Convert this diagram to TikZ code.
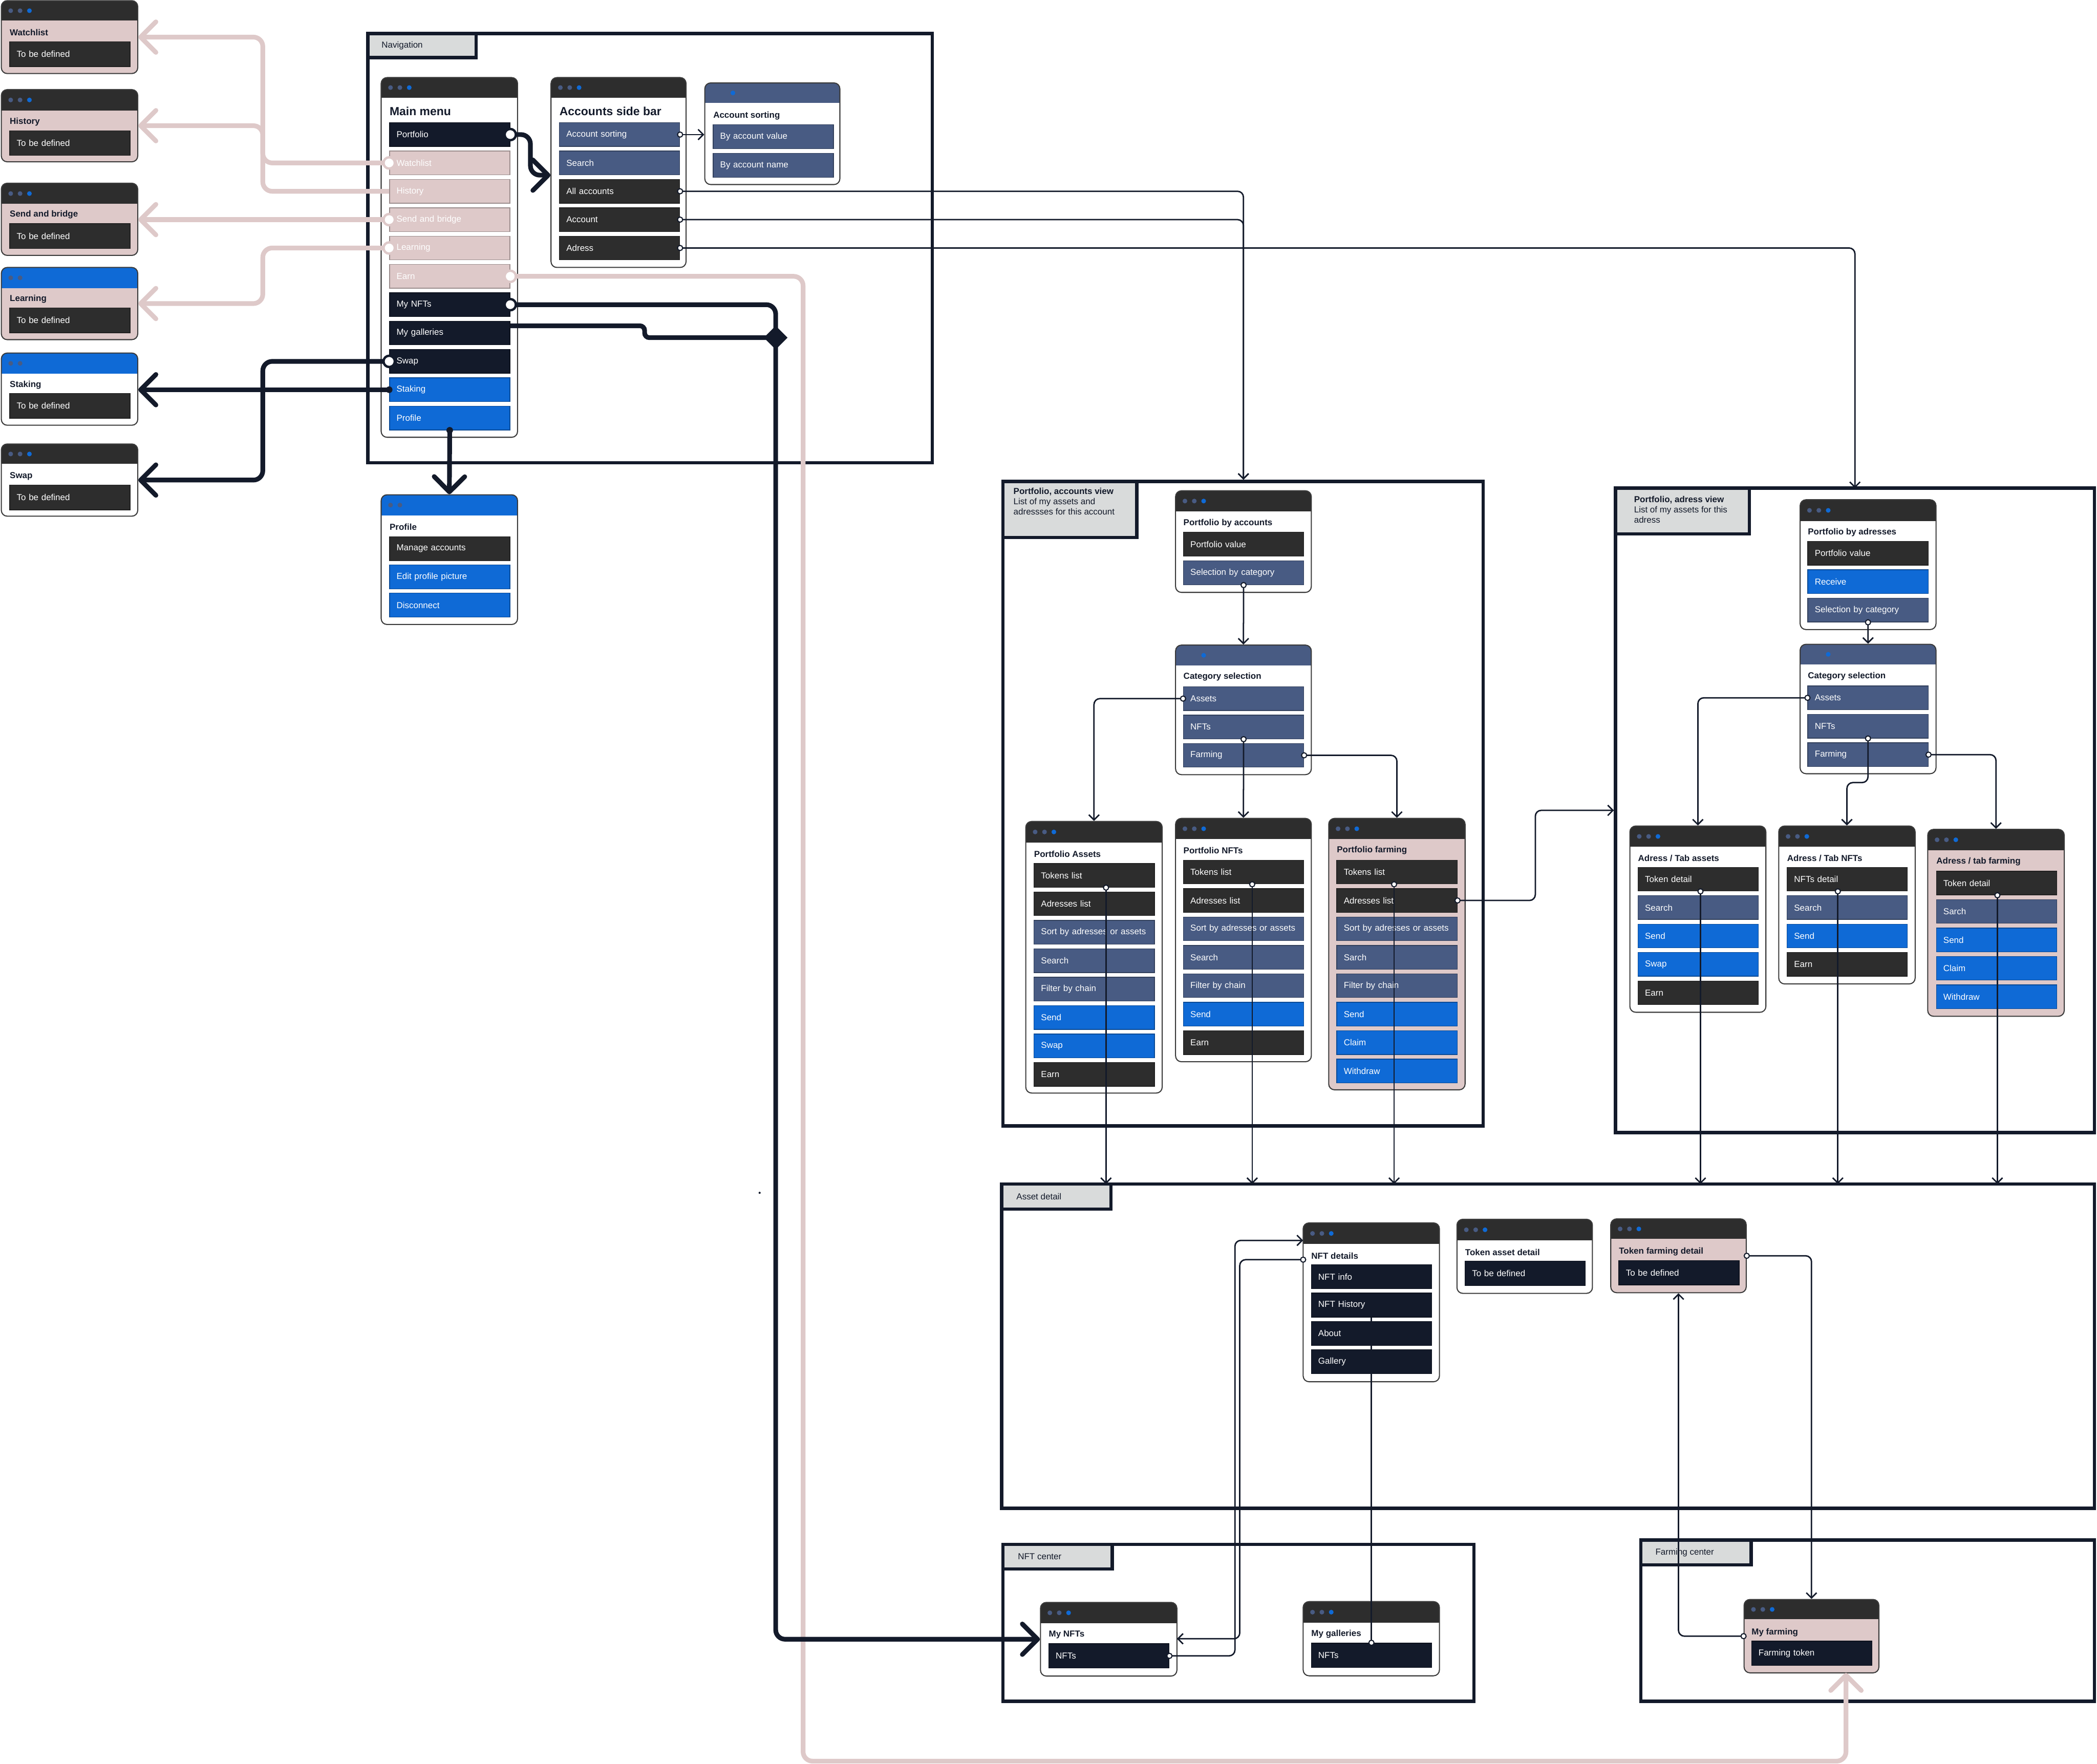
\documentclass[tikz,border=0pt]{standalone}
\usepackage{fontspec}
\setmainfont{Liberation Sans}
\usetikzlibrary{arrows.meta,calc,fit,shapes.geometric}
\definecolor{navy}{HTML}{131A2A}
\definecolor{coal}{HTML}{2D2D2D}
\definecolor{slate}{HTML}{485B83}
\definecolor{azure}{HTML}{0F6AD6}
\definecolor{blush}{HTML}{DEC9C9}
\definecolor{tabgrey}{HTML}{D9DBDB}
\definecolor{winline}{HTML}{3A3A3A}
\newcommand{\uifont}{\fontsize{3.7}{4.4}\selectfont}
\newcommand{\bigfont}{\fontsize{5}{6}\selectfont\bfseries}
\tikzset{
  winbox/.style={draw=winline, line width=0.45pt, rounded corners=2.5pt, inner sep=0pt},
  btn/.style={anchor=north west, fill=#1, draw=#1!70!black, line width=0.3pt,
              minimum width=18mm, minimum height=3.55mm, inner xsep=1.05mm, inner ysep=0pt,
              text width=15.9mm, align=left, text=white, font=\uifont},
  wtitle/.style={anchor=west, inner sep=0pt, text=navy, font=\uifont\bfseries},
  areabox/.style={draw=navy, line width=1.4pt, inner sep=0pt},
  tabbox/.style={draw=navy, fill=tabgrey, line width=1.4pt, inner sep=0pt},
  tablbl/.style={anchor=west, inner sep=0pt, text=navy, font=\uifont}}
% window: name, x1, y1, x2, y2, bottom of header, header colour, body colour
\newcommand{\appwin}[8]{%
  \begin{scope}
    \clip[rounded corners=2.5pt] (#2,#3) rectangle (#4,#5);
    \fill[#8] (#2,#3) rectangle (#4,#5);
    \fill[#7] (#2,#3) rectangle (#4,#6);
  \end{scope}
  \node[winbox, fit={(#2,#3) (#4,#5)}] (#1) {};
  \foreach \dx/\dc in {7/slate,14/slate,21/azure}
    \fill[\dc] ({#2+\dx},{(#3+#6)/2}) circle (1pt);
}
\newcommand{\ringpin}[2]{\draw[draw=#2, fill=white, line width=1pt] (#1) circle (2.4pt);}

\begin{document}
\begin{tikzpicture}[x=0.2mm, y=-0.2mm,
    thinlink/.style={draw=navy, line width=0.6pt, rounded corners=2.5pt,
                     -{Straight Barb[length=2.2pt,width=4.4pt]}},
    navyline/.style={draw=navy, line width=2pt, rounded corners=4pt,
                     -{Straight Barb[length=6.5pt,width=13pt,round]}},
    pinkline/.style={navyline, draw=blush},
    pinthin/.style={draw=navy, fill=white, line width=0.45pt}]
  \useasboundingbox (0,0) rectangle (1568,1319);

  % ---- areas
  \node[areabox, fit={(275,25) (697,346)}] (navf) {};
  \node[tabbox, fit={(275,25) (356,43)}] (navtab) {};
  \node[tablbl] (navlbl) at (285,34) {Navigation};

  \node[areabox, fit={(750,360) (1109,842)}] (pav) {};
  \node[tabbox, fit={(750,360) (850,402)}] (pavtab) {};
  \node[tablbl, anchor=north west, align=left] (pavlbl) at (757.5,364.5)
    {\textbf{Portfolio, accounts view}\\List of my assets and\\adressses for this account};

  \node[areabox, fit={(1208,365) (1566,847)}] (padv) {};
  \node[tabbox, fit={(1208,365) (1308,399.3)}] (padvtab) {};
  \node[tablbl, anchor=north west, align=left] (padvlbl) at (1221.5,370.5)
    {\textbf{Portfolio, adress view}\\List of my assets for this\\adress};

  \node[areabox, fit={(749,885.4) (1566,1128)}] (adf) {};
  \node[tabbox, fit={(749,885.4) (830.6,904.2)}] (adftab) {};
  \node[tablbl] (adflbl) at (759.7,894.8) {Asset detail};

  \node[areabox, fit={(750,1155) (1102,1272.3)}] (nftc) {};
  \node[tabbox, fit={(750,1155) (831.6,1173.4)}] (nftctab) {};
  \node[tablbl] (nftclbl) at (760.8,1164.1) {NFT center};

  \node[areabox, fit={(1227,1151.7) (1566,1272.3)}] (farmc) {};
  \node[tabbox, fit={(1227,1151.7) (1309.4,1170.2)}] (farmctab) {};
  \node[tablbl] (farmclbl) at (1237.5,1161) {Farming center};

  % ---- left column
  \appwin{w1}{1}{0.5}{103}{55}{15.5}{coal}{blush}
  \node[wtitle] (w1t) at (7,24.4) {Watchlist};
  \node[btn=coal, minimum height=3.7mm] (w1b) at (7,31) {To be defined};
  \appwin{w2}{1}{67}{103}{121}{82.5}{coal}{blush}
  \node[wtitle] (w2t) at (7,91) {History};
  \node[btn=coal, minimum height=3.7mm] (w2b) at (7,97.5) {To be defined};
  \appwin{w3}{1}{137}{103}{191}{152.5}{coal}{blush}
  \node[wtitle] (w3t) at (7,160.5) {Send and bridge};
  \node[btn=coal, minimum height=3.7mm] (w3b) at (7,167) {To be defined};
  \appwin{w4}{1}{200}{103}{254}{215.5}{azure}{blush}
  \node[wtitle] (w4t) at (7,223.8) {Learning};
  \node[btn=coal, minimum height=3.7mm] (w4b) at (7,230) {To be defined};
  \appwin{stakw}{1}{264}{103}{318}{279.5}{azure}{white}
  \node[wtitle] (w5t) at (7,287.8) {Staking};
  \node[btn=coal, minimum height=3.7mm] (w5b) at (7,294) {To be defined};
  \appwin{swapw}{1}{332}{103}{386}{347}{coal}{white}
  \node[wtitle] (w6t) at (7,356) {Swap};
  \node[btn=coal, minimum height=3.7mm] (w6b) at (7,362.5) {To be defined};

  % ---- navigation
  \appwin{mainw}{285}{58}{387}{327}{73}{coal}{white}
  \node[wtitle, font=\bigfont] (mainT) at (291,83) {Main menu};
  \foreach \nm/\col/\txt [count=\i from 0] in {mPort/navy/Portfolio, mWatch/blush/Watchlist,
      mHist/blush/History, mSend/blush/Send and bridge, mLearn/blush/Learning, mEarn/blush/Earn,
      mNft/navy/My NFTs, mGal/navy/My galleries, mSwap/navy/Swap, mStak/azure/Staking, mProf/azure/Profile}
    \node[btn=\col] (\nm) at (291,{91.5+21.2*\i}) {\txt};

  \appwin{accw}{412}{58}{513}{200}{73}{coal}{white}
  \node[wtitle, font=\bigfont] (accT) at (418,83) {Accounts side bar};
  \foreach \nm/\col/\txt [count=\i from 0] in {aSort/slate/Account sorting, aSearch/slate/Search,
      aAll/coal/All accounts, aAcc/coal/Account, aAdr/coal/Adress}
    \node[btn=\col] (\nm) at (418,{91.5+21.2*\i}) {\txt};

  \appwin{sortw}{527}{62}{628}{138}{77}{slate}{white}
  \node[wtitle] (sortT) at (533,86.5) {Account sorting};
  \node[btn=slate, minimum height=3.6mm] (sVal) at (533,93) {By account value};
  \node[btn=slate, minimum height=3.6mm] (sName) at (533,114.4) {By account name};

  \appwin{profw}{285}{370}{387}{467}{385.4}{azure}{white}
  \node[wtitle] (profT) at (291,394) {Profile};
  \foreach \nm/\col/\txt [count=\i from 0] in {pMan/coal/Manage accounts,
      pEdit/azure/Edit profile picture, pDisc/azure/Disconnect}
    \node[btn=\col, minimum height=3.6mm] (\nm) at (291,{401+21.1*\i}) {\txt};

  % ---- portfolio, accounts view
  \appwin{pbaw}{879}{367}{980.5}{443}{382.4}{coal}{white}
  \node[wtitle] (pbaT) at (884.6,391.2) {Portfolio by accounts};
  \node[btn=coal, minimum height=3.6mm] (pbaVal) at (884.6,397.7) {Portfolio value};
  \node[btn=slate, minimum height=3.6mm] (pbaSel) at (884.6,419) {Selection by category};

  \appwin{catw}{879}{482.4}{980.5}{579.3}{497.7}{slate}{white}
  \node[wtitle] (catT) at (884.6,506.2) {Category selection};
  \foreach \nm/\txt [count=\i from 0] in {cAss/Assets, cNft/NFTs, cFarm/Farming}
    \node[btn=slate] (\nm) at (884.6,{513.3+21.2*\i}) {\txt};

  \appwin{passw}{767}{614.3}{869}{817.4}{630}{coal}{white}
  \node[wtitle] (passT) at (772.9,638.7) {Portfolio Assets};
  \foreach \nm/\col/\txt [count=\i from 0] in {paTok/coal/Tokens list, paAdr/coal/Adresses list,
      paSort/slate/Sort by adresses or assets, paSearch/slate/Search, paFilt/slate/Filter by chain,
      paSend/azure/Send, paSwap/azure/Swap, paEarn/coal/Earn}
    \node[btn=\col] (\nm) at (772.9,{645.5+21.25*\i}) {\txt};

  \appwin{pnftw}{879}{612}{980.5}{794}{627.5}{coal}{white}
  \node[wtitle] (pnftT) at (884.6,636) {Portfolio NFTs};
  \foreach \nm/\col/\txt [count=\i from 0] in {pnTok/coal/Tokens list, pnAdr/coal/Adresses list,
      pnSort/slate/Sort by adresses or assets, pnSearch/slate/Search, pnFilt/slate/Filter by chain,
      pnSend/azure/Send, pnEarn/coal/Earn}
    \node[btn=\col] (\nm) at (884.6,{643+21.25*\i}) {\txt};

  \appwin{pfarmw}{993.5}{612}{1095.5}{815}{627.5}{coal}{blush}
  \node[wtitle] (pfarmT) at (999.3,636) {Portfolio farming};
  \foreach \nm/\col/\txt [count=\i from 0] in {pfTok/coal/Tokens list, pfAdr/coal/Adresses list,
      pfSort/slate/Sort by adresses or assets, pfSarch/slate/Sarch, pfFilt/slate/Filter by chain,
      pfSend/azure/Send, pfClaim/azure/Claim, pfWith/azure/Withdraw}
    \node[btn=\col] (\nm) at (999.3,{643+21.25*\i}) {\txt};

  % ---- portfolio, adress view
  \appwin{pbdw}{1346}{373.7}{1447.6}{470.8}{389.6}{coal}{white}
  \node[wtitle] (pbdT) at (1351.5,398) {Portfolio by adresses};
  \foreach \nm/\col/\txt [count=\i from 0] in {pbdVal/coal/Portfolio value, pbdRec/azure/Receive,
      pbdSel/slate/Selection by category}
    \node[btn=\col] (\nm) at (1351.5,{404.6+21.25*\i}) {\txt};

  \appwin{cat2w}{1346}{481.8}{1447.6}{578.6}{496.8}{slate}{white}
  \node[wtitle] (cat2T) at (1351.5,505.8) {Category selection};
  \foreach \nm/\txt [count=\i from 0] in {c2Ass/Assets, c2Nft/NFTs, c2Farm/Farming}
    \node[btn=slate] (\nm) at (1351.5,{512.7+21.25*\i}) {\txt};

  \appwin{tassw}{1218.7}{617.7}{1320.4}{757}{633.3}{coal}{white}
  \node[wtitle] (tassT) at (1224.5,641.8) {Adress / Tab assets};
  \foreach \nm/\col/\txt [count=\i from 0] in {taTok/coal/Token detail, taSearch/slate/Search,
      taSend/azure/Send, taSwap/azure/Swap, taEarn/coal/Earn}
    \node[btn=\col] (\nm) at (1224.5,{648.3+21.25*\i}) {\txt};

  \appwin{tnftw}{1330}{617.7}{1432}{735.8}{633.3}{coal}{white}
  \node[wtitle] (tnftT) at (1336,641.8) {Adress / Tab NFTs};
  \foreach \nm/\col/\txt [count=\i from 0] in {tnDet/coal/NFTs detail, tnSearch/slate/Search,
      tnSend/azure/Send, tnEarn/coal/Earn}
    \node[btn=\col] (\nm) at (1336,{648.3+21.25*\i}) {\txt};

  \appwin{tfarmw}{1441.4}{620.2}{1543.5}{760}{635.8}{coal}{blush}
  \node[wtitle] (tfarmT) at (1447.6,644.3) {Adress / tab farming};
  \foreach \nm/\col/\txt [count=\i from 0] in {tfTok/coal/Token detail, tfSarch/slate/Sarch,
      tfSend/azure/Send, tfClaim/azure/Claim, tfWith/azure/Withdraw}
    \node[btn=\col] (\nm) at (1447.6,{651.2+21.25*\i}) {\txt};

  % ---- asset detail
  \appwin{nftdw}{974.4}{914.5}{1076.3}{1033.3}{930.3}{coal}{white}
  \node[wtitle] (nftdT) at (980.2,939.1) {NFT details};
  \foreach \nm/\txt [count=\i from 0] in {ndInfo/NFT info, ndHist/NFT History, ndAbout/About, ndGal/Gallery}
    \node[btn=navy, minimum height=3.6mm] (\nm) at (980.2,{945.5+21.2*\i}) {\txt};

  \appwin{tadw}{1089.4}{911.8}{1190.7}{967.2}{927.5}{coal}{white}
  \node[wtitle] (tadT) at (1095.2,936.4) {Token asset detail};
  \node[btn=navy, minimum height=3.65mm] (tadBtn) at (1095.2,942.8) {To be defined};

  \appwin{tfdw}{1204.4}{911.5}{1305.7}{966.7}{926.5}{coal}{blush}
  \node[wtitle] (tfdT) at (1210.2,935.9) {Token farming detail};
  \node[btn=navy, minimum height=3.65mm] (tfdBtn) at (1210.2,942.3) {To be defined};

  % ---- NFT center, farming center
  \appwin{mynw}{778}{1198.3}{880}{1253.4}{1213.9}{coal}{white}
  \node[wtitle] (mynT) at (783.9,1222.5) {My NFTs};
  \node[btn=navy, minimum height=3.65mm] (mnBtn) at (783.9,1228.9) {NFTs};

  \appwin{mgw}{974.4}{1197.7}{1076.3}{1253.2}{1213.5}{coal}{white}
  \node[wtitle] (mgT) at (980.2,1222.1) {My galleries};
  \node[btn=navy, minimum height=3.65mm] (mgBtn) at (980.2,1228.5) {NFTs};

  \appwin{myfw}{1304.1}{1196.1}{1404.9}{1251}{1211}{coal}{blush}
  \node[wtitle] (myfT) at (1309.4,1220.9) {My farming};
  \node[btn=navy, minimum height=3.65mm] (myfBtn) at (1309.4,1227) {Farming token};

  % ---- helper points
  \coordinate (lbus) at (196.5,0);
  \coordinate (adrIn) at (1387,365);
  \coordinate (hop) at (1148,606);
  \coordinate (dA) at (827,885.4);
  \coordinate (dB) at (936.3,885.4);
  \coordinate (dC) at (1042.4,885.4);
  \coordinate (dD) at (1271.5,885.4);
  \coordinate (dE) at (1374.2,885.4);
  \coordinate (dF) at (1493.5,885.4);
  \coordinate (nftIn) at (974.4,927.6);
  \coordinate (nftOut) at (974.4,942);
  \coordinate (mynIn) at (880,1225.5);
  \coordinate (earnLow) at (600.5,1317);
  \coordinate (farmIn) at (1380.3,1251);
  \coordinate (mergePt) at (580,252.5);

  % ---- thin links
  \draw[thinlink] (aSort.east) -- (sortw.west |- aSort.east);
  \draw[thinlink] (aAll.east) -| (pbaw.north |- pav.north);
  \draw[thinlink] (aAcc.east) -| (pbaw.north |- pav.north);
  \draw[thinlink] (aAdr.east) -| (adrIn);
  \draw[thinlink] (pbaSel.south) -- (catw.north);
  \draw[thinlink] (cAss.west) -| (passw.north);
  \draw[thinlink] (cNft.south) -- (pnftw.north);
  \draw[thinlink] (cFarm.east) -| (pfarmw.north);
  \draw[thinlink] (paTok.south -| dA) -- (dA);
  \draw[thinlink] (pnTok.south -| dB) -- (dB);
  \draw[thinlink] (pfTok.south -| dC) -- (dC);
  \draw[thinlink] (pfAdr.east) -| (hop) -- (padv.west);
  \draw[thinlink] (pbdSel.south) -- (cat2w.north);
  \draw[thinlink] (c2Ass.west) -| (tassw.north);
  \draw[thinlink] (c2Nft.south) -- ++(0,33) -| (tnftw.north);
  \draw[thinlink] (c2Farm.east) -| (tfarmw.north);
  \draw[thinlink] (taTok.south -| dD) -- (dD);
  \draw[thinlink] (tnDet.south -| dE) -- (dE);
  \draw[thinlink] (tfTok.south -| dF) -- (dF);
  \draw[thinlink] (mnBtn.east) -| ($(nftIn)+(-51,0)$) -- (nftIn);
  \draw[thinlink] (nftOut) -| ($(mynIn)+(47,0)$) -- (mynIn);
  \draw[thinlink, -] (mgBtn.north) -- (ndHist.south);
  \draw[thinlink] (tfdw.east) -| (myfw.north);
  \draw[thinlink] (myfw.west) -| (tfdw.south);
  \foreach \p in {aSort.east, aAll.east, aAcc.east, aAdr.east, pbaSel.south, cAss.west,
      cNft.south, cFarm.east, pfAdr.east, pbdSel.south, c2Ass.west, c2Nft.south, c2Farm.east,
      mnBtn.east, nftOut, mgBtn.north, tfdw.east, myfw.west}
    {\draw[pinthin] (\p) circle (1.1pt);}
  \draw[pinthin] (paTok.south -| dA) circle (1.1pt);
  \draw[pinthin] (pnTok.south -| dB) circle (1.1pt);
  \draw[pinthin] (pfTok.south -| dC) circle (1.1pt);
  \draw[pinthin] (taTok.south -| dD) circle (1.1pt);
  \draw[pinthin] (tnDet.south -| dE) circle (1.1pt);
  \draw[pinthin] (tfTok.south -| dF) circle (1.1pt);

  % ---- pink links
  \draw[pinkline] (mWatch.west) -| (lbus |- w1.east) -- (w1.east);
  \draw[pinkline] (mHist.west) -| (lbus |- w2.east) -- (w2.east);
  \draw[pinkline] (mSend.west) -- (mSend.west -| w3.east);
  \draw[pinkline] (mLearn.west) -| (lbus |- w4.east) -- (w4.east);
  \draw[pinkline] (mEarn.east) -| (earnLow) -| (farmIn);
  \foreach \p in {mWatch.west, mSend.west, mLearn.west, mEarn.east}
    {\ringpin{\p}{blush}}

  % ---- navy links
  \draw[navyline] (mPort.east) -| ($(accw.west |- aSearch.south)+(-15,0)$) -- (accw.west |- aSearch.south);
  \draw[navyline, -, rounded corners=2pt] ($(mGal.east)+(0,-5.4)$) -| ($(mergePt)+(-98,0)$) -- (mergePt);
  \draw[navyline] (mNft.east) -| (mergePt) |- (mynw.west);
  \draw[navyline] (mSwap.west) -| (lbus |- swapw.east) -- (swapw.east);
  \draw[navyline] (mStak.west) -- (mStak.west -| stakw.east);
  \draw[navyline] (mProf.south) -- (profw.north);
  \node[diamond, fill=navy, minimum size=3.6mm, inner sep=0pt] (merge) at (mergePt) {};
  \foreach \p in {mPort.east, mNft.east, mSwap.west}
    {\ringpin{\p}{navy}}
  \fill[navy] (mStak.west) circle (1.4pt);
  \fill[navy] (mProf.south) circle (1.4pt);
  \fill[navy] (568,892) circle (0.45pt);
\end{tikzpicture}
\end{document}
